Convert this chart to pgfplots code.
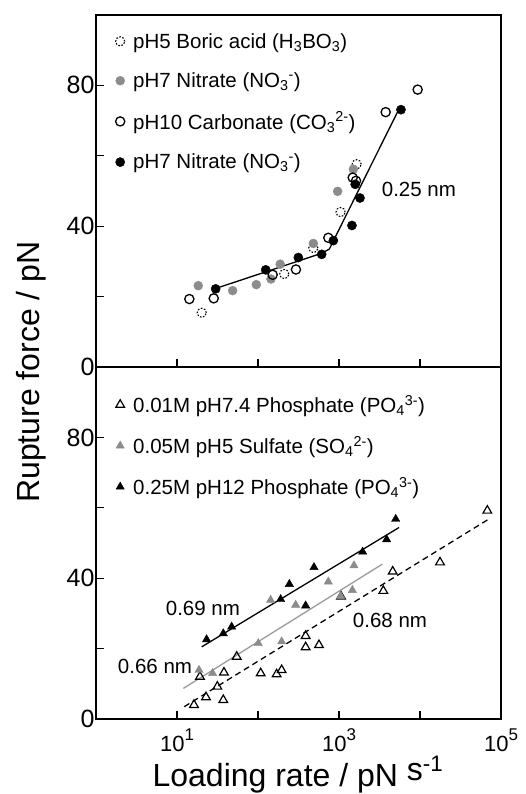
\documentclass[border=0pt]{standalone}
\usepackage{fontspec}
\setmainfont{Liberation Sans}
\usepackage{pgfplots}
\pgfplotsset{compat=1.18}
\definecolor{pgray}{RGB}{140,140,140}
\definecolor{lgray}{RGB}{155,155,155}
\newcommand\sups[1]{\raisebox{0.5em}{\fontsize{17}{17}\selectfont #1}}
\pgfplotsset{
  lmark/.style={only marks, legend image code/.code={\path[draw=none,fill=none] (0pt,0pt) -- (17pt,0pt);\draw[mark repeat=2,mark phase=2,##1] plot coordinates {(0pt,0pt) (6pt,0pt) (12pt,0pt)};}},
  panel/.style={
    scale only axis, width=405pt, height=352pt,
    xmin=1, xmax=1e5, ymin=0, ymax=100,
    axis line style={line width=1.3pt},
    tick style={line width=1.1pt, black},
    major tick length=8pt,
    tick align=inside,
    tick pos=left,
    xtick={1,10,100,1000,10000,100000},
    ytick={0,20,40,60,80},
    yticklabels={0,,40,,80},
    yticklabel style={font=\fontsize{25}{30}\selectfont, xshift=2pt},
    xticklabel style={font=\fontsize{22}{26}\selectfont, yshift=-6pt},
    legend cell align=left,
    legend style={draw=none, fill=none, anchor=north west, font=\fontsize{20.5}{24}\selectfont},
    clip=false,
  },
}
\begin{document}
\begin{tikzpicture}
\useasboundingbox (0,0) rectangle (525pt,794pt);
% ---------------- top panel ----------------
\begin{semilogxaxis}[panel, xminorticks=false, at={(96pt,427pt)}, anchor=south west, xticklabels={},
  legend style={at={(0,1)}, xshift=15pt, yshift=-14pt, row sep=19pt}]
\addplot[lmark, black, mark=o, mark size=4.6pt, mark options={line width=1.1pt, dash pattern=on 1.6pt off 1.6pt}]
  coordinates {(20.2,15.4) (211,26.4) (482,33.8) (1047,44.0) (1652,57.6)};
\addlegendentry{pH5 Boric acid (H\textsubscript{3}BO\textsubscript{3})}
\addplot[lmark, pgray, mark=*, mark size=4.5pt]
  coordinates {(18.3,23.1) (48.6,21.7) (95.3,23.4) (144.5,25.0) (188,29.2) (482,35.1) (962,49.9) (1503,56.2)};
\addlegendentry{pH7 Nitrate (NO\textsubscript{3}\textsuperscript{-})}
\addplot[lmark, black, mark=o, mark size=4.6pt, mark options={line width=1.3pt}]
  coordinates {(14.2,19.3) (28.4,19.5) (151.7,26.2) (294,27.7) (738,36.7) (1476,53.8) (1622,52.9) (3767,72.4) (9354,78.8)};
\addlegendentry{pH10 Carbonate (CO\textsubscript{3}\textsuperscript{2-})}
\addplot[lmark, black, mark=*, mark size=4.6pt]
  coordinates {(30.0,22.2) (124.5,27.6) (314.8,31.1) (611,32.0) (851,35.9) (1445,40.2) (1585,51.9) (1815,48.0) (5821,73.1)};
\addlegendentry{pH7 Nitrate (NO\textsubscript{3}\textsuperscript{-})}
\addplot[black, line width=1.3pt, forget plot] coordinates {(30,22.3) (611,32.3) (760,33.5) (851,35.8) (5508,73.3)};
\node[font=\fontsize{20.5}{24}\selectfont] at (axis cs:9700,50.3) {0.25 nm};
\end{semilogxaxis}
% ---------------- bottom panel ----------------
\begin{semilogxaxis}[panel, xminorticks=false, at={(96pt,75pt)}, anchor=south west,
  xticklabels={,10\sups{1},,10\sups{3},,10\sups{5}},
  legend style={at={(0,1)}, xshift=15pt, yshift=-24pt, row sep=18pt}]
\addplot[lmark, black, mark=triangle, mark size=5pt, mark options={line width=1.2pt}]
  coordinates {(16.2,4.0) (22.8,6.2) (37.3,5.4) (31.5,9.2) (19.2,12.0) (38.0,13.2) (54.6,17.7) (107.9,13.0) (169.8,12.7) (195.9,13.9) (387.3,20.4) (387.3,23.6) (566.2,21.0) (1059,34.8) (3524,36.4) (4603,41.9) (17660,44.5) (67760,59.2)};
\addlegendentry{0.01M pH7.4 Phosphate (PO\textsubscript{4}\textsuperscript{3-})}
\addplot[lmark, pgray, mark=triangle*, mark size=4.8pt]
  coordinates {(18.7,13.9) (27.5,13.0) (100.9,21.5) (195.9,22.0) (143.2,33.8) (291.7,32.4) (738,39.0) (1050,34.9) (1462,36.6) (1531,43.6)};
\addlegendentry{0.05M pH5 Sulfate (SO\textsubscript{4}\textsuperscript{2-})}
\addplot[lmark, black, mark=triangle*, mark size=4.8pt]
  coordinates {(23.2,22.6) (37.3,24.3) (47.3,26.2) (190.5,34.0) (243.8,38.3) (387.3,32.2) (491,43.1) (1959,47.5) (3873,51.0) (5012,56.8)};
\addlegendentry{0.25M pH12 Phosphate (PO\textsubscript{4}\textsuperscript{3-})}
\addplot[black, line width=1.3pt, forget plot] coordinates {(20.2,20.5) (5508,54.4)};
\addplot[lgray, line width=1.3pt, forget plot] coordinates {(12.0,8.7) (3428,44.0)};
\addplot[black, line width=1.3pt, dash pattern=on 6pt off 4pt, forget plot] coordinates {(12.3,3.5) (69660,56.7)};
\node[font=\fontsize{20.5}{24}\selectfont] at (axis cs:20.9,31.5) {0.69 nm};
\node[font=\fontsize{20.5}{24}\selectfont] at (axis cs:5.35,14.8) {0.66 nm};
\node[font=\fontsize{20.5}{24}\selectfont] at (axis cs:4266,27.9) {0.68 nm};
\end{semilogxaxis}
\node[rotate=90, anchor=base, font=\fontsize{32}{38}\selectfont] at (39pt,422pt) {Rupture force / pN};
\node[anchor=base, font=\fontsize{32}{38}\selectfont] at (298pt,7pt) {Loading rate / pN \raisebox{6pt}{s\textsuperscript{-1}}};
\end{tikzpicture}
\end{document}
